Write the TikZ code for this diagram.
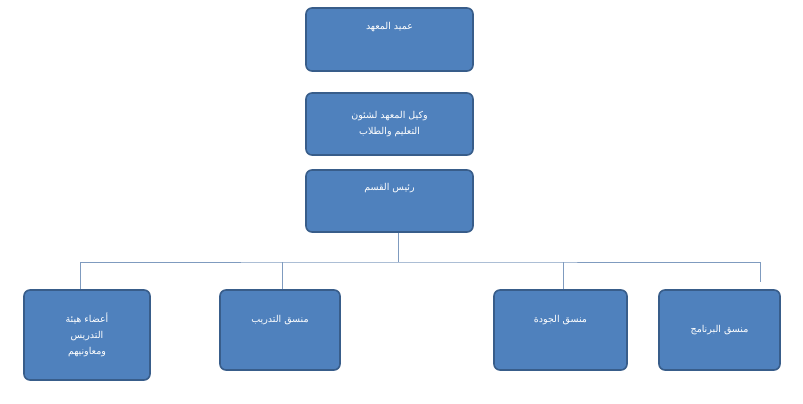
\documentclass[tikz,border=0pt]{standalone}
\usepackage{fontspec}
\newfontfamily\arabicfont[Script=Arabic]{DejaVu Sans}
\TeXXeTstate=1
\usetikzlibrary{positioning}
\definecolor{boxfill}{HTML}{4F81BD}
\definecolor{boxline}{HTML}{385D8A}
\definecolor{wire}{HTML}{7F9BBF}
\newcommand{\ar}[1]{\beginR #1\endR}
\begin{document}
\begin{tikzpicture}[x=1pt,y=-1pt,
    unit/.style={
        rectangle,
        rounded corners=6pt,
        draw=boxline,
        fill=boxfill,
        line width=1.6pt,
        text=white,
        align=center,
        font=\arabicfont\fontsize{9.5}{16}\selectfont,
        inner sep=2pt,
        },
    link/.style={
        draw=wire,
        line width=0.8pt,
        },
    ]
    \useasboundingbox (0,0) rectangle (803,404);

    \node [unit, minimum width=167, minimum height=63] (dean) at (389.5,39.5) {\ar{عميد المعهد}\\[12pt]};
    \node [unit, minimum width=167, minimum height=62] (vice) at (389.5,124) {\ar{وكيل المعهد لشئون}\\\ar{التعليم والطلاب}};
    \node [unit, minimum width=167, minimum height=62] (head) at (389.5,201) {\ar{رئيس القسم}\\[12pt]};

    \node [unit, minimum width=126, minimum height=90] (staff) at (87,335) {\ar{أعضاء هيئة}\\\ar{التدريس}\\\ar{ومعاونيهم}};
    \node [unit, minimum width=120, minimum height=80] (train) at (280,330) {\ar{منسق التدريب}\\[6pt]};
    \node [unit, minimum width=133, minimum height=80] (qual) at (560.5,330) {\ar{منسق الجودة}\\[6pt]};
    \node [unit, minimum width=121, minimum height=80] (prog) at (719.5,330) {\ar{منسق البرنامج}};

    \coordinate (bus) at (398,262);
    \coordinate (tail) at (760,282);

    \draw [link] (head.south -| bus) -- (bus);
    \draw [link] (staff.north -| 80,0) |- (bus) -| (tail);
    \draw [link] (train.north -| 282,0) -- (bus -| 282,0);
    \draw [link] (qual.north -| 563,0) -- (bus -| 563,0);

\end{tikzpicture}
\end{document}
